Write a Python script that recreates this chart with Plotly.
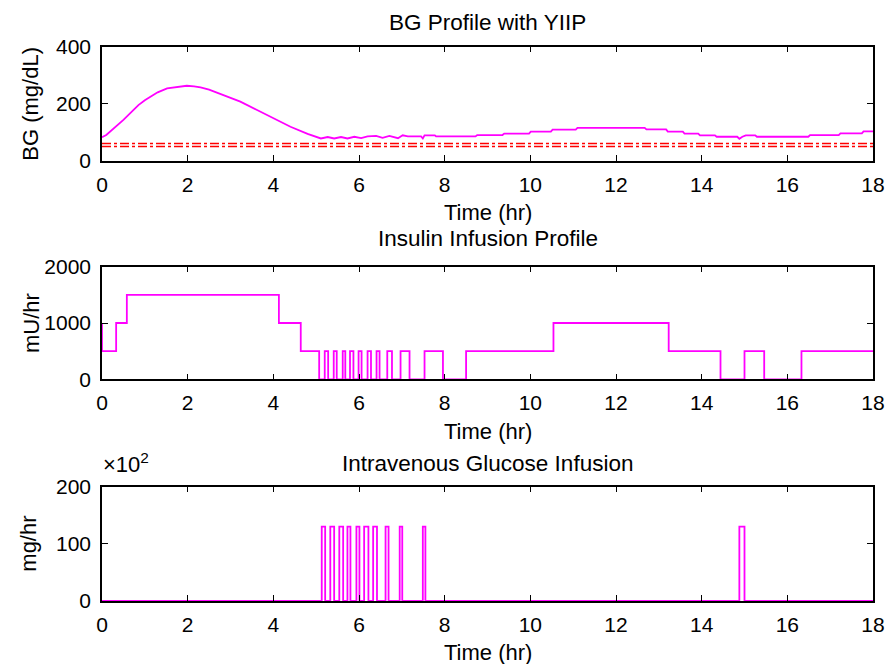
import plotly.graph_objects as go

# ---- Blood glucose trace (mg/dL) ----
BG_TIME = [0.0, 0.1, 0.5, 0.85, 1.0, 1.13, 1.3, 1.52, 1.7, 1.98, 2.15, 2.3, 2.5,
           2.84, 3.23, 3.62, 4.0, 4.4, 4.8, 5.03, 5.11, 5.27, 5.42, 5.58, 5.73,
           5.89, 6.05, 6.2, 6.4, 6.55, 6.71, 6.91, 7.02, 7.14, 7.45, 7.49, 7.53,
           7.77, 7.8, 8.72, 8.76, 9.35, 9.39, 9.97, 10.01, 10.48, 10.52, 11.06,
           11.1, 12.67, 12.71, 13.17, 13.21, 13.56, 13.6, 13.92, 13.96, 14.31,
           14.35, 14.83, 14.88, 14.95, 15.03, 15.25, 15.29, 16.49, 16.53, 17.2,
           17.24, 17.74, 17.78, 18.0]
BG_VALUE = [82, 90, 143, 195, 212, 225, 240, 254, 258, 263, 261, 257, 249,
            230, 207, 178, 149, 119, 94, 82, 78, 83, 78, 83, 78,
            84, 79, 85, 87, 80, 87, 79, 89, 85, 85, 78, 89,
            89, 85, 85, 90, 90, 95, 95, 102, 102, 109, 109,
            115, 115, 110, 110, 102, 102, 95, 95, 89, 89,
            84, 84, 77, 84, 89, 89, 84, 84, 90, 90,
            96, 96, 103, 103]
HYPO_LIMITS = [60, 50]  # dash-dot reference levels

# ---- Insulin infusion schedule (mU/hr), value holds from each time on ----
INS_TIME = [0.0, 0.0, 0.33, 0.58, 4.13, 4.64, 5.07, 5.2, 5.28, 5.41, 5.48,
            5.62, 5.68, 5.79, 5.87, 5.99, 6.06, 6.2, 6.28, 6.41, 6.48, 6.66,
            6.77, 6.97, 7.18, 7.53, 7.96, 8.5, 10.54, 13.23, 14.44, 15.0,
            15.46, 16.33, 18.0]
INS_RATE = [1000, 500, 1000, 1500, 1000, 500, 0, 500, 0, 500, 0,
            500, 0, 500, 0, 500, 0, 500, 0, 500, 0, 500,
            0, 500, 0, 500, 0, 500, 1000, 500, 0, 500,
            0, 500, 500]

# ---- Intravenous glucose boluses (mg/hr) ----
GLU_ON = [5.13, 5.33, 5.54, 5.73, 5.94, 6.12, 6.33, 6.62, 6.95, 7.49, 14.88]
GLU_OFF = [5.21, 5.42, 5.63, 5.80, 6.01, 6.22, 6.42, 6.69, 7.01, 7.55, 15.0]
GLU_RATE = 13000
GLU_SCALE = 100  # axis shown in units of 10^2 mg/hr
T_END = 18.0

X_TICKS = [0, 2, 4, 6, 8, 10, 12, 14, 16, 18]

# step series for glucose built from the on/off times
glu_t, glu_v = [0.0], [0.0]
for on, off in zip(GLU_ON, GLU_OFF):
    glu_t += [on, off]
    glu_v += [GLU_RATE / GLU_SCALE, 0.0]
glu_t.append(T_END)
glu_v.append(0.0)

MAGENTA = "#ff00ff"
FONT = "Liberation Sans, Arial, Helvetica, sans-serif"

fig = go.Figure()

fig.add_trace(go.Scatter(x=BG_TIME, y=BG_VALUE, mode="lines",
                         line=dict(color=MAGENTA, width=1.8),
                         xaxis="x", yaxis="y", showlegend=False))
for lim in HYPO_LIMITS:
    fig.add_trace(go.Scatter(x=[0, T_END], y=[lim, lim], mode="lines",
                             line=dict(color="#ff0000", width=1.5, dash="dashdot"),
                             xaxis="x", yaxis="y", showlegend=False))

fig.add_trace(go.Scatter(x=INS_TIME, y=INS_RATE, mode="lines",
                         line=dict(color=MAGENTA, width=1.8, shape="hv"),
                         xaxis="x2", yaxis="y2", showlegend=False))

fig.add_trace(go.Scatter(x=glu_t, y=glu_v, mode="lines",
                         line=dict(color=MAGENTA, width=1.8, shape="hv"),
                         xaxis="x3", yaxis="y3", showlegend=False))

H_PIX, T_M, B_M, L_M, R_M = 664, 46, 63, 102, 15
PLOT_H = H_PIX - T_M - B_M
PLOT_W = 888 - L_M - R_M


def py(pix):
    """page pixel row -> paper y"""
    return (H_PIX - B_M - pix) / PLOT_H


def px(pix):
    """page pixel column -> paper x"""
    return (pix - L_M) / PLOT_W


axis_common = dict(showline=True, linecolor="black", linewidth=1.5,
                   mirror="ticks", ticks="inside", ticklen=6, tickwidth=1.3,
                   tickcolor="black", showgrid=False, zeroline=False,
                   automargin=False,
                   tickfont=dict(family=FONT, size=21, color="black"))

domains = [(py(160.7), py(46.7)), (py(379.3), py(266.7)), (0.0, py(486.7))]
yranges = [(0, 400, [0, 200, 400]), (0, 2000, [0, 1000, 2000]), (0, 200, [0, 100, 200])]

layout = dict(width=888, height=664,
              margin=dict(l=L_M, r=R_M, t=T_M, b=B_M, autoexpand=False),
              paper_bgcolor="white", plot_bgcolor="white",
              font=dict(family=FONT, size=21, color="black"))

for i in range(3):
    sfx = "" if i == 0 else str(i + 1)
    layout["xaxis" + sfx] = dict(axis_common, domain=[0, 1], range=[0, T_END],
                                 tickvals=X_TICKS, anchor="y" + sfx,
                                 ticklabelstandoff=4)
    lo, hi, tv = yranges[i]
    layout["yaxis" + sfx] = dict(axis_common, domain=list(domains[i]),
                                 range=[lo, hi], tickvals=tv,
                                 anchor="x" + sfx, ticklabelstandoff=5)

fig.update_layout(**layout)

ann = []


def text(x, y, s, angle=0, xanchor="center", size=22):
    ann.append(dict(x=x, y=y, xref="paper", yref="paper", text=s,
                    showarrow=False, textangle=angle, xanchor=xanchor,
                    yanchor="middle", font=dict(family=FONT, size=size, color="black")))


mid_x = 0.5
text(mid_x, py(23), "BG Profile with YIIP", size=22.5)
text(mid_x, py(238), "Insulin Infusion Profile", size=22.5)
text(mid_x, py(463), "Intravenous Glucose Infusion", size=22.5)
for row in (212, 431, 652):
    text(mid_x, py(row), "Time (hr)")
text(px(31), py(103.7), "BG (mg/dL)", angle=-90)
text(px(31), py(323), "mU/hr", angle=-90)
text(px(29), py(543.7), "mg/hr", angle=-90)
text(px(101), py(463), "×10<sup>2</sup>", xanchor="left")

fig.update_layout(annotations=ann)

fig.write_html("out.html")
